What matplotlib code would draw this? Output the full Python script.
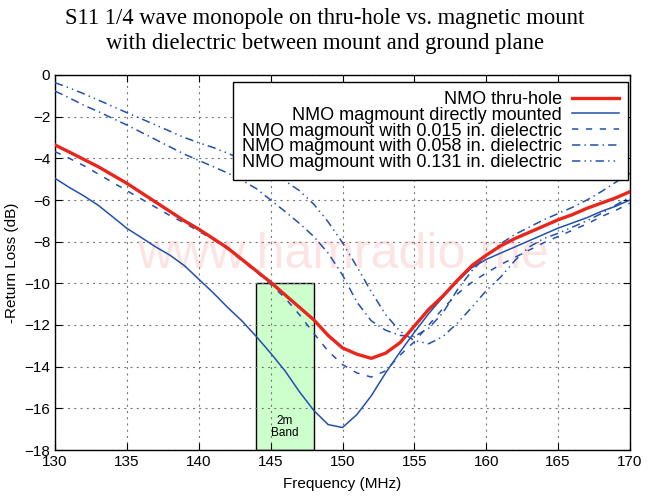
import matplotlib
matplotlib.use('Agg')
import matplotlib.pyplot as plt
from matplotlib.patches import Rectangle

plt.rcParams['font.family'] = ['Liberation Sans', 'DejaVu Sans']
plt.rcParams['lines.scale_dashes'] = False

# frequency grid (MHz) (dB)
FREQ = list(range(130, 171))

THRU_HOLE = [-3.36, -3.7, -4.05, -4.4, -4.8, -5.2, -5.65, -6.1, -6.55, -7.0,
             -7.4, -7.85, -8.3, -8.85, -9.4, -9.95, -10.55, -11.15, -11.75, -12.5,
             -13.1, -13.4, -13.6, -13.35, -12.85, -12.05, -11.25, -10.6, -9.85, -9.15,
             -8.65, -8.2, -7.85, -7.55, -7.25, -6.95, -6.7, -6.4, -6.15, -5.9, -5.6]
DIRECT = [-4.96, -5.4, -5.8, -6.25, -6.8, -7.36, -7.8, -8.25, -8.65, -9.15,
          -9.8, -10.45, -11.15, -11.8, -12.55, -13.35, -14.2, -15.2, -16.1, -16.78,
          -16.92, -16.3, -15.4, -14.3, -13.3, -12.35, -11.45, -10.65, -9.9, -9.25,
          -8.85, -8.55, -8.25, -7.95, -7.65, -7.35, -7.1, -6.85, -6.55, -6.3, -6.0]
DIEL_015 = [-3.68, -4.0, -4.35, -4.75, -5.15, -5.55, -5.95, -6.35, -6.75, -7.1,
            -7.5, -7.9, -8.35, -8.9, -9.45, -10.05, -10.7, -11.5, -12.4, -13.25,
            -13.9, -14.3, -14.5, -14.2, -13.45, -12.8, -12.0, -11.2, -10.5, -9.95,
            -9.5, -9.1, -8.75, -8.4, -8.05, -7.75, -7.45, -7.15, -6.8, -6.5, -6.15]
DIEL_058 = [-0.77, -1.1, -1.45, -1.75, -2.08, -2.4, -2.75, -3.1, -3.45, -3.8,
            -4.1, -4.4, -4.7, -5.05, -5.45, -6.0, -6.55, -7.12, -7.75, -8.55,
            -9.6, -10.9, -11.8, -12.25, -12.5, -12.55, -12.15, -11.4, -10.3, -9.4,
            -8.7, -8.1, -7.65, -7.3, -6.95, -6.65, -6.35, -6.0, -5.6, -5.15, -4.72]
DIEL_131 = [-0.37, -0.62, -0.9, -1.2, -1.5, -1.81, -2.1, -2.4, -2.7, -3.0,
            -3.25, -3.48, -3.75, -4.05, -4.35, -4.7, -5.08, -5.55, -6.2, -7.05,
            -8.05, -9.2, -10.4, -11.5, -12.3, -12.75, -12.9, -12.55, -11.9, -11.15,
            -10.35, -9.7, -8.9, -8.25, -7.85, -7.6, -7.3, -7.0, -6.65, -6.25, -5.85]

BAND = (144, 148)   # 2m band
BAND_TOP = -10

RED = '#e8261c'
BLUE = '#2150ad'

fig = plt.figure(figsize=(6.5, 5), dpi=100)
ax = fig.add_axes([55 / 650, 50 / 500, 575 / 650, 375 / 500])

ax.add_patch(Rectangle((BAND[0], -18), BAND[1] - BAND[0], BAND_TOP + 18,
                       facecolor='#ccffcc', edgecolor='black', linewidth=1.0, zorder=1))
ax.text(sum(BAND) / 2, -16.9, '2m\nBand', ha='center', va='center', fontsize=8.5,
        linespacing=1.0, zorder=3)
ax.text(150, -9.25, 'www.hamradio.me', ha='center', va='baseline', fontsize=36,
        color='#fde4e4', zorder=1.1)

ax.plot(FREQ, THRU_HOLE, color=RED, lw=2.4, label='NMO thru-hole', zorder=4)
ax.plot(FREQ, DIRECT, color=BLUE, lw=1.1, label='NMO magmount directly mounted', zorder=3)
ax.plot(FREQ, DIEL_015, color=BLUE, lw=1.1, dashes=(4.5, 5.5),
        label='NMO magmount with 0.015 in. dielectric', zorder=3)
ax.plot(FREQ, DIEL_058, color=BLUE, lw=1.1, dashes=(6, 3, 1, 3),
        label='NMO magmount with 0.058 in. dielectric', zorder=3)
ax.plot(FREQ, DIEL_131, color=BLUE, lw=1.1, dashes=(6, 3, 1, 3, 1, 3),
        label='NMO magmount with 0.131 in. dielectric', zorder=3)

ax.set_xlim(130, 170)
ax.set_ylim(-18, 0)
ax.set_xticks(range(130, 171, 5))
ax.set_yticks(range(-18, 1, 2))
ax.tick_params(direction='in', top=True, right=True, labelsize=11, length=5, width=0.8)
ax.set_axisbelow('line')
ax.grid(True, color='#777777', linestyle=(0, (1.5, 3)), linewidth=0.8, zorder=1.5)
for sp in ax.spines.values():
    sp.set_linewidth(1.0)
ax.set_xlabel('Frequency (MHz)', fontsize=11, labelpad=6)
ax.set_ylabel('-Return Loss (dB)', fontsize=11, labelpad=4)

leg = ax.legend(loc='upper right', bbox_to_anchor=(0.9965, 0.9813), borderaxespad=0,
                markerfirst=False, fancybox=False, framealpha=1, edgecolor='black',
                fontsize=13, handlelength=2.6, handletextpad=0.55, labelspacing=-0.07,
                borderpad=0.5)
leg.get_frame().set_linewidth(1.0)
leg.set_zorder(5)

fig.text(0.5, 1 - 31 / 500, 'S11 1/4 wave monopole on thru-hole vs. magnetic mount\n'
         'with dielectric between mount and ground plane', ha='center', va='center',
         family='Liberation Serif', fontsize=16.3, linespacing=1.3)

fig.savefig('out.png', dpi=100)
